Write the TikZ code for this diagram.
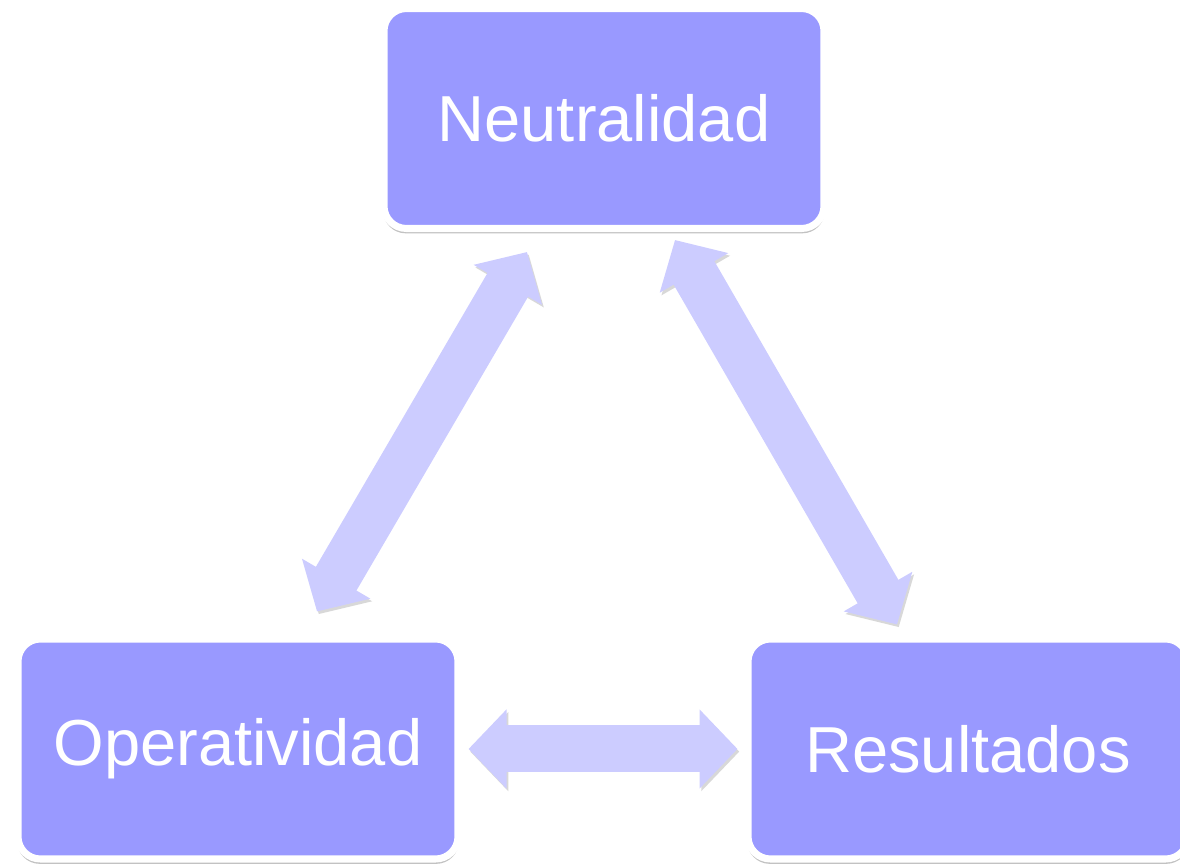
\documentclass[tikz,border=0pt]{standalone}
\usepackage{fontspec}
\setmainfont{Liberation Sans}
\usepackage{tikz}
\usetikzlibrary{positioning, arrows.meta, shadows}
\definecolor{boxblue}{RGB}{153,153,255}
\definecolor{arrowblue}{RGB}{204,204,255}
\tikzset{
	node distance=5.66cm,
	block/.style={draw=white, line width=4pt, fill=boxblue, rounded corners=0.45cm,
		minimum width=8.8cm, minimum height=4.4cm, text=white,
		font=\fontsize{37}{44}\selectfont,
		drop shadow={shadow xshift=0pt, shadow yshift=-2.5pt, shadow scale=1.004,
			opacity=0.4, fill=black!60}},
	link/.style={draw=arrowblue, line width=0.94cm,
		{Triangle[width=1.54cm, length=0.76cm]}-{Triangle[width=1.54cm, length=0.76cm]},
		preaction={draw=black!30, opacity=0.5, transform canvas={shift={(1pt,-1.5pt)}}}}
}

\begin{document}
\begin{tikzpicture}
	\useasboundingbox (0,0) rectangle (23.6,-17.3);
	\clip (0,0) rectangle (23.6,-17.3);
	\node[block] (neu) at (12.08,-2.37) {Neutralidad};
	\node[block] (ope) at (4.76,-14.98) {Operatividad};
	\node[block, right=of ope] (res) {Resultados};
	\draw[link] ([shift={(1.58,0.48)}]ope.north) -- ([shift={(-1.54,-0.4)}]neu.south);
	\draw[link] ([shift={(1.42,-0.16)}]neu.south) -- ([shift={(-1.42,0.22)}]res.north);
	\draw[link] ([xshift=0.14cm]ope.east) -- ([xshift=-0.14cm]res.west);
\end{tikzpicture}
\end{document}
